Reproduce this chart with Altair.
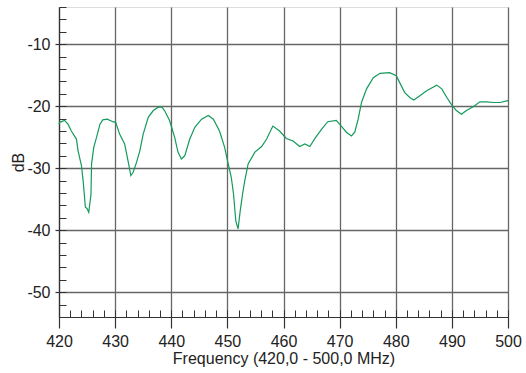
import altair as alt
import pandas as pd

freq_mhz = [420.0, 420.1, 421.0, 421.6, 422.2, 423.1, 423.4, 424.0, 424.3, 424.7,
            425.0, 425.3, 425.7, 425.8, 426.2, 426.7, 427.3, 427.8, 428.6, 429.6,
            430.1, 430.8, 431.7, 432.3, 432.8, 433.2, 433.8, 434.4, 435.0, 435.9,
            436.8, 437.6, 438.3, 438.8, 439.7, 440.6, 441.2, 441.8, 442.4, 443.3,
            444.2, 445.4, 446.6, 447.5, 448.6, 449.5, 450.1, 450.7, 451.1, 451.5,
            451.9, 452.3, 452.7, 453.1, 453.7, 454.9, 456.1, 457.0, 458.1, 459.3,
            460.5, 461.7, 462.9, 463.8, 464.7, 465.6, 466.8, 467.9, 469.4, 470.3,
            471.2, 472.1, 472.7, 473.3, 473.9, 474.8, 476.0, 477.2, 478.9, 480.1,
            480.7, 481.6, 482.5, 483.2, 484.3, 485.5, 487.3, 488.2, 489.1, 489.9,
            490.8, 491.7, 492.6, 493.8, 495.0, 496.2, 497.4, 498.6, 500.0]

level_db = [-22.9, -22.6, -22.3, -22.9, -24.0, -25.3, -27.2, -29.6, -32.0, -36.3,
            -36.5, -37.1, -34.2, -29.3, -26.6, -25.0, -22.9, -22.2, -22.1, -22.5,
            -22.6, -24.5, -26.1, -28.8, -31.2, -30.7, -29.1, -27.2, -24.5, -21.8,
            -20.7, -20.2, -20.1, -20.7, -22.3, -25.0, -27.4, -28.5, -28.0, -25.3,
            -23.4, -22.1, -21.5, -22.1, -24.0, -26.6, -29.1, -31.5, -34.2, -38.5,
            -39.8, -36.8, -34.2, -32.0, -29.3, -27.4, -26.5, -25.3, -23.2, -24.0,
            -25.2, -25.6, -26.5, -26.1, -26.5, -25.2, -23.7, -22.5, -22.3, -23.2,
            -24.2, -24.8, -24.2, -22.1, -19.4, -17.2, -15.4, -14.7, -14.6, -15.1,
            -16.2, -17.8, -18.6, -19.0, -18.3, -17.5, -16.6, -17.2, -18.6, -19.7,
            -20.7, -21.3, -20.7, -20.1, -19.3, -19.3, -19.4, -19.4, -19.1]

x_major = [420, 430, 440, 450, 460, 470, 480, 490, 500]
y_major = [-50, -40, -30, -20, -10]
x_minor = list(range(420, 501, 2))
y_minor = list(range(-54, -3, 2))

assert len(freq_mhz) == len(level_db)
df = pd.DataFrame({"f": freq_mhz, "db": level_db})

W, H = 449, 310
FONT = "Liberation Sans"

xscale = alt.Scale(domain=[420, 500], nice=False, zero=False)
yscale = alt.Scale(domain=[-54, -4], nice=False, zero=False)

base = alt.Chart(df)

line = base.mark_line(color="#139a5c", strokeWidth=1.2).encode(
    x=alt.X("f:Q", scale=xscale,
            axis=alt.Axis(values=x_major, grid=True, gridColor="#666", gridWidth=1.3,
                          tickSize=11, tickColor="#333", tickWidth=1.2,
                          domainColor="#333", domainWidth=1.2,
                          labelFont=FONT, labelFontSize=16, labelColor="#222",
                          labelPadding=5, labelFlush=False,
                          labelExpr="'' + datum.value",
                          title="Frequency (420,0 - 500,0 MHz)",
                          titleFont=FONT, titleFontSize=16, titleFontWeight="normal",
                          titleColor="#222", titlePadding=1)),
    y=alt.Y("db:Q", scale=yscale,
            axis=alt.Axis(values=y_major, grid=True, gridColor="#666", gridWidth=1.3,
                          tickSize=4, tickColor="#333", tickWidth=1.2,
                          domainColor="#333", domainWidth=1.2,
                          labelFont=FONT, labelFontSize=16, labelColor="#222",
                          labelPadding=5, labelExpr="'' + datum.value",
                          title="dB", titleFont=FONT, titleFontSize=16,
                          titleFontWeight="normal", titleColor="#222", titlePadding=0)),
)

minor = base.mark_line(opacity=0).encode(
    x=alt.X("f:Q", scale=xscale,
            axis=alt.Axis(orient="top", offset=-H, values=x_minor, labels=False,
                          domain=False, grid=False, tickSize=7, tickColor="#333",
                          tickWidth=1, title=None)),
    y=alt.Y("db:Q", scale=yscale,
            axis=alt.Axis(orient="right", offset=-W, values=y_minor, labels=False,
                          domain=False, grid=False, tickSize=7, tickColor="#333",
                          tickWidth=1, title=None)),
)

chart = alt.layer(line, minor).resolve_axis(x="independent", y="independent").properties(
    width=W, height=H,
    autosize=alt.AutoSizeParams(type="none"),
    padding={"left": 59, "top": 7, "right": 18, "bottom": 56},
).configure_view(stroke="#666", strokeWidth=1.3).configure(background="white")

chart.save("out.html", embed_options={"renderer": "svg", "actions": False})
